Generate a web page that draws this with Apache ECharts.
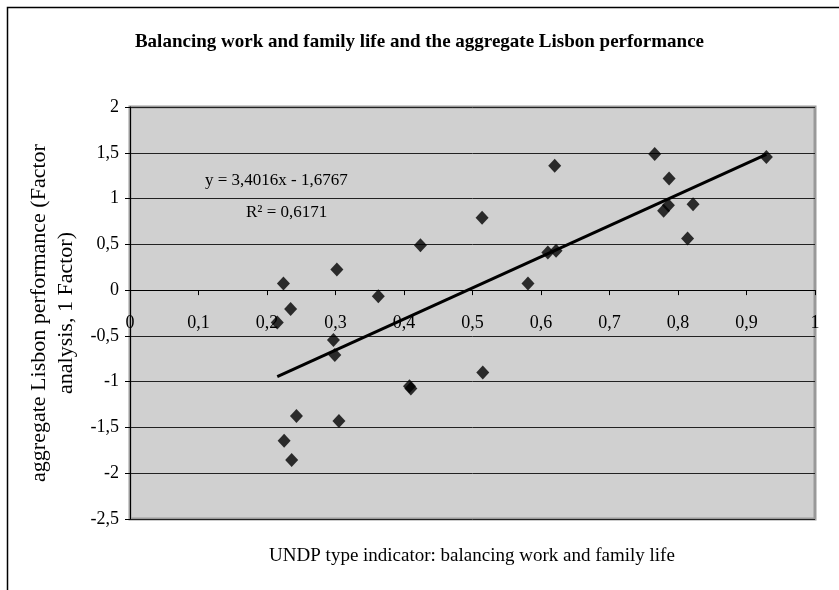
<!DOCTYPE html>
<html>
<head>
<meta charset="utf-8">
<script src="https://cdn.jsdelivr.net/npm/echarts@6/dist/echarts.min.js"></script>
<style>html,body{margin:0;padding:0;background:#fff}#c{width:839px;height:590px}</style>
</head>
<body>
<div id="c"></div>
<script>
// Data
var xValues = [0.224, 0.302, 0.424, 0.3625, 0.2345, 0.215, 0.297, 0.299, 0.408, 0.410, 0.243, 0.305, 0.225, 0.236,
               0.514, 0.515, 0.620, 0.766, 0.929, 0.787, 0.786, 0.779, 0.822, 0.814, 0.610, 0.622, 0.581];
var yValues = [0.073, 0.226, 0.49, -0.066, -0.207, -0.353, -0.546, -0.71, -1.05, -1.075, -1.376, -1.43, -1.645, -1.856,
               0.79, -0.899, 1.357, 1.488, 1.455, 1.219, 0.928, 0.866, 0.939, 0.564, 0.41, 0.43, 0.073];
var trendSlope = 3.4016;
var trendIntercept = -1.6767;
var rSquared = 0.6171;
var xTicks = [0, 0.1, 0.2, 0.3, 0.4, 0.5, 0.6, 0.7, 0.8, 0.9, 1];
var yTicks = [-2.5, -2, -1.5, -1, -0.5, 0, 0.5, 1, 1.5, 2];
var titleText = 'Balancing work and family life and the aggregate Lisbon performance';
var xName = 'UNDP type indicator: balancing work and family life';
var yName = 'aggregate Lisbon performance (Factor\nanalysis, 1 Factor)';

var points = xValues.map(function (x, i) { return [x, yValues[i]]; });
var xMin = Math.min.apply(null, xValues), xMax = Math.max.apply(null, xValues);
var trendPoints = [[xMin, trendSlope * xMin + trendIntercept], [xMax, trendSlope * xMax + trendIntercept]];
function comma(v) { return String(Math.round(v * 10) / 10).replace('.', ','); }
function fmt4(v) { return v.toFixed(4).replace('.', ','); }

var GRID = { left: 130, right: 24, top: 107, bottom: 71 };
var plotH = 590 - GRID.top - GRID.bottom;
var yMinV = yTicks[0], yMaxV = yTicks[yTicks.length - 1];
var zeroOffset = -plotH * (0 - yMinV) / (yMaxV - yMinV); // move x axis up to y = 0

var FONT = '"Liberation Serif", "Times New Roman", serif';
var chart = echarts.init(document.getElementById('c'), null, { renderer: 'canvas' });
chart.setOption({
  animation: false,
  backgroundColor: '#fff',
  textStyle: { fontFamily: FONT },
  grid: { left: GRID.left, right: GRID.right, top: GRID.top, bottom: GRID.bottom, show: true, backgroundColor: '#d0d0d0', borderColor: '#999', borderWidth: 3 },
  xAxis: {
    type: 'value', min: xTicks[0], max: xTicks[xTicks.length - 1], interval: 0.1,
    offset: zeroOffset,
    axisLine: { onZero: false, lineStyle: { color: '#000', width: 1 } },
    axisTick: { show: true, inside: false, length: 5, lineStyle: { color: '#000' } },
    axisLabel: { formatter: comma, fontFamily: FONT, fontSize: 18, color: '#000', margin: 24, showMinLabel: true, showMaxLabel: true },
    splitLine: { show: false }
  },
  yAxis: {
    type: 'value', min: yMinV, max: yMaxV, interval: 0.5,
    name: yName, nameLocation: 'middle', nameGap: 45,
    nameTextStyle: { fontFamily: FONT, fontSize: 22, color: '#000', lineHeight: 27 },
    axisLine: { onZero: false, lineStyle: { color: '#000', width: 1 } },
    axisTick: { show: true, inside: false, length: 5, lineStyle: { color: '#000' } },
    axisLabel: { formatter: comma, fontFamily: FONT, fontSize: 18, color: '#000', margin: 11 },
    splitLine: { show: true, lineStyle: { color: '#222', width: 1 } }
  },
  series: [
    {
      type: 'line', data: trendPoints, symbol: 'none', silent: true,
      lineStyle: { color: '#000', width: 3 }, z: 3
    },
    {
      type: 'scatter', data: points, symbol: 'diamond', symbolSize: [13, 14],
      itemStyle: { color: '#000' }, z: 4
    }
  ],
  graphic: [
    { type: 'rect', left: 5, top: 5, shape: { width: 900, height: 700 }, style: { fill: 'none', stroke: '#000', lineWidth: 1.5 }, silent: true, z: -10 },
    { type: 'text', left: 'center', top: 33, style: { text: titleText, font: 'bold 19px ' + FONT, fill: '#000' } },
    { type: 'text', x: 472, y: 556, style: { text: xName, font: '19px ' + FONT, fill: '#000', align: 'center', verticalAlign: 'middle' } },
    { type: 'text', x: 205, y: 181, z: 10, style: { text: 'y = ' + fmt4(trendSlope) + 'x - ' + fmt4(-trendIntercept), font: '17px ' + FONT, fill: '#000', align: 'left', verticalAlign: 'middle' } },
    { type: 'text', x: 246, y: 213, z: 10, style: { text: 'R\u00B2 = ' + fmt4(rSquared), font: '17px ' + FONT, fill: '#000', align: 'left', verticalAlign: 'middle' } }
  ]
});
</script>
</body>
</html>
